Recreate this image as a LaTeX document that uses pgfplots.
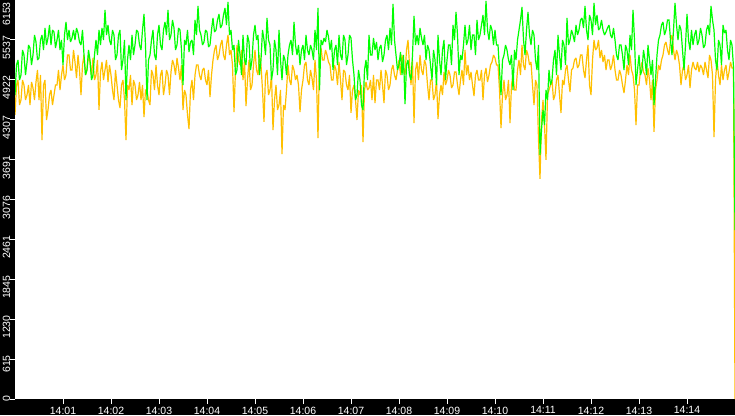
\documentclass[border=0pt]{standalone}
\usepackage{fontspec}
\setmainfont{Liberation Sans}
\usepackage{pgfplots}
\usepackage{pgfplotstable}
\pgfplotsset{compat=1.18}
\definecolor{lgreen}{RGB}{0,255,0}
\definecolor{lorange}{RGB}{255,192,0}
\pgfplotstableread[row sep=\\]{v\\
4688\\5151\\5228\\4919\\4996\\5382\\5305\\4996\\5197\\5459\\
5413\\5151\\5305\\5613\\5505\\5228\\5259\\5536\\5613\\5382\\
5721\\5459\\5567\\5767\\5459\\5690\\5660\\5413\\5536\\5690\\
5382\\5536\\5151\\5613\\5814\\5536\\5690\\5505\\5567\\5690\\
5536\\5721\\5644\\5505\\5459\\5690\\5305\\4996\\5074\\5382\\
5228\\4919\\4996\\5305\\5536\\5305\\5690\\5459\\5721\\5536\\
5999\\5613\\5767\\5536\\5459\\5690\\5613\\5228\\5305\\5613\\
5690\\5074\\5228\\5536\\4611\\5228\\5459\\5228\\5613\\5305\\
5459\\5690\\5660\\5459\\5382\\5690\\5937\\5459\\4611\\5228\\
5305\\5536\\5690\\5305\\5228\\5613\\5767\\5459\\5382\\5690\\
5814\\5613\\5999\\5536\\5613\\5845\\5721\\5382\\5459\\5721\\
5690\\5382\\4842\\5536\\5459\\5690\\5351\\5505\\5536\\5305\\
5845\\5613\\6060\\5690\\5613\\5459\\5505\\5690\\5660\\5428\\
5459\\5690\\5875\\5660\\5690\\5845\\5937\\5721\\5767\\5922\\
6030\\5767\\6122\\5613\\5690\\5382\\5459\\4996\\5074\\5536\\
5305\\4996\\5613\\5228\\5151\\5613\\5505\\5074\\5228\\5613\\
5767\\5536\\5613\\4996\\5228\\5690\\5536\\5305\\5875\\5536\\
5459\\4919\\5074\\5536\\5382\\4996\\5690\\5228\\4919\\5305\\
5228\\4996\\5305\\5459\\5536\\5305\\5814\\5459\\5305\\5459\\
5151\\5382\\5459\\5228\\5613\\5382\\5305\\5459\\5382\\5228\\
5690\\5382\\6030\\4765\\5536\\5459\\5567\\5505\\5690\\5583\\
5382\\5536\\5074\\5382\\5459\\5151\\5613\\5305\\5228\\5613\\
5536\\5151\\5305\\5613\\5567\\5228\\4996\\4611\\4688\\5074\\
4919\\4534\\4457\\5074\\5228\\4919\\5613\\5305\\5305\\5567\\
5382\\5505\\5228\\5413\\5459\\5197\\5305\\5536\\5613\\5382\\
5721\\5459\\6091\\5536\\5305\\5074\\5151\\5351\\4996\\5305\\
4549\\5151\\5228\\4996\\4919\\5305\\5906\\5459\\5613\\5459\\
5721\\5567\\5459\\5613\\5228\\5459\\5382\\5151\\4919\\5382\\
5228\\4842\\5613\\5228\\4996\\5382\\5536\\4919\\5228\\5459\\
5459\\5151\\5767\\5536\\5968\\5613\\4996\\5305\\5228\\5459\\
5767\\5459\\5536\\5767\\5382\\5613\\5613\\5305\\5845\\5536\\
5613\\5767\\5922\\5613\\6138\\5690\\5536\\5767\\5690\\5459\\
5690\\5459\\5459\\5074\\4688\\5228\\5305\\5459\\5382\\5228\\
5151\\5305\\4765\\5382\\5228\\5536\\5690\\5845\\6045\\5536\\
5305\\5690\\5968\\5613\\5459\\5690\\5613\\5228\\5074\\5459\\
3763\\4148\\4457\\4225\\4765\\4611\\5074\\4842\\4919\\5228\\
5382\\4996\\5613\\5305\\5074\\5536\\5459\\5151\\5875\\5459\\
5536\\5690\\5613\\5505\\5767\\5613\\5690\\5845\\5875\\5721\\
6060\\5690\\5536\\5922\\5845\\5613\\6107\\5767\\5922\\5690\\
5721\\5845\\5690\\5613\\5660\\5721\\5767\\5613\\5567\\5721\\
5536\\5305\\5228\\5459\\5459\\5305\\5074\\5459\\5382\\5151\\
5613\\5382\\5999\\5536\\4842\\5074\\5305\\4996\\5074\\5382\\
5228\\4996\\5459\\5228\\4996\\5228\\4534\\4919\\5305\\5536\\
5613\\5767\\5814\\5613\\5690\\5845\\5845\\5536\\5305\\5690\\
6107\\5767\\5536\\5767\\5690\\5382\\5074\\5459\\5937\\5536\\
5382\\5690\\5459\\5613\\5690\\5459\\5536\\5721\\5613\\5413\\
5459\\5690\\5767\\5613\\6060\\5845\\5690\\5228\\5074\\5536\\
5459\\5151\\5767\\5644\\5690\\5382\\5228\\5536\\5459\\5120\\
2606\\
}\greendata
\pgfplotstableread[row sep=\\]{v\\
4380\\4842\\4919\\4534\\4611\\4919\\4842\\4611\\4688\\4842\\
4534\\4889\\4796\\4611\\4889\\5074\\4611\\4996\\3994\\4842\\
4919\\4303\\4457\\4688\\4765\\4534\\4688\\4842\\4842\\5074\\
4765\\4996\\5151\\4919\\4996\\5305\\5305\\5074\\5074\\5382\\
5197\\4950\\5305\\5074\\4688\\5151\\5305\\4996\\5074\\5305\\
5197\\4996\\5259\\4919\\4996\\5228\\4457\\5043\\5197\\4919\\
5074\\5228\\4889\\5151\\4996\\4765\\4611\\5074\\4842\\4611\\
4488\\4842\\4919\\4611\\3994\\4842\\4765\\4996\\4534\\4919\\
4842\\4611\\4688\\4889\\4611\\4842\\4349\\4765\\4765\\4611\\
4534\\5074\\4996\\4765\\5151\\4842\\4688\\4996\\5074\\4688\\
4842\\5074\\4996\\4688\\5043\\5228\\5151\\4996\\5259\\5104\\
4919\\5151\\4457\\4765\\4688\\4380\\4164\\4765\\4919\\4611\\
4996\\5151\\5151\\4996\\4919\\5074\\5104\\4919\\4842\\5074\\
4657\\4996\\5228\\5382\\5459\\5228\\5305\\5459\\5536\\5305\\
5228\\5459\\5613\\5305\\5382\\5151\\4426\\5074\\5459\\5228\\
5151\\5382\\4919\\5228\\4518\\4919\\5228\\4765\\4842\\5151\\
5382\\5074\\4996\\5305\\5151\\4765\\4272\\4996\\5074\\4688\\
4765\\4996\\4148\\4611\\4842\\4457\\4534\\4765\\3778\\4534\\
4457\\4765\\5151\\4919\\4842\\5151\\5074\\4919\\4996\\4842\\
4426\\4765\\4919\\5151\\5197\\4919\\4842\\5074\\4950\\4765\\
5228\\4919\\4025\\5228\\5413\\5228\\5228\\5382\\5305\\5197\\
5151\\4919\\4919\\5151\\5074\\4842\\5197\\4919\\4611\\5074\\
5043\\4842\\4765\\4996\\4411\\4765\\4842\\4611\\4303\\4765\\
4688\\4842\\3963\\4765\\4889\\4765\\4796\\4919\\4611\\4996\\
4565\\4919\\4919\\4765\\5074\\4842\\4565\\5074\\4996\\4765\\
4842\\5074\\5151\\4996\\4919\\5074\\5228\\4996\\5305\\5074\\
4996\\5382\\5536\\5151\\4842\\5228\\4256\\5074\\5197\\4919\\
5305\\5074\\4996\\5228\\5151\\4842\\4611\\4919\\4919\\4611\\
4688\\4919\\4318\\4688\\4842\\4688\\5043\\4842\\4919\\5074\\
4996\\4796\\4842\\5043\\5043\\4842\\4688\\4919\\5074\\4842\\
5382\\4996\\5151\\4919\\5043\\4842\\4673\\4996\\5074\\4919\\
4919\\5074\\4611\\4996\\5104\\4889\\4996\\5151\\5197\\5305\\
5259\\5151\\5151\\4765\\4179\\4688\\4919\\4611\\4688\\4919\\
4256\\4842\\4996\\4765\\4765\\5074\\5228\\4996\\5459\\5151\\
5074\\5382\\5305\\5151\\5197\\4842\\4534\\4919\\4842\\3994\\
3393\\4303\\4611\\4225\\3686\\4688\\4765\\4842\\4919\\4611\\
4688\\4919\\4996\\4688\\4411\\4919\\4842\\5074\\5151\\4919\\
4734\\5074\\5104\\5228\\5259\\5104\\5151\\5305\\5305\\5074\\
4950\\5228\\5459\\4842\\4688\\5228\\5536\\5382\\5413\\5536\\
5259\\5382\\5197\\5305\\5074\\5228\\5228\\5074\\5151\\5305\\
5074\\4919\\4919\\5074\\4996\\4842\\4719\\4919\\5151\\4996\\
5305\\5074\\4996\\4765\\4225\\4842\\4842\\5074\\5197\\5043\\
4996\\4842\\5104\\4919\\4611\\4919\\4118\\4765\\4919\\5151\\
5074\\5228\\5305\\5459\\5505\\5382\\5305\\5536\\5613\\5382\\
5228\\5382\\5305\\5151\\4842\\5074\\5151\\4919\\4996\\5151\\
4796\\5074\\5197\\5104\\5074\\5197\\5043\\5151\\5104\\4996\\
5197\\5074\\4950\\5305\\5228\\4996\\4040\\4919\\5228\\4996\\
4842\\5151\\4919\\5074\\5151\\4919\\5043\\5197\\5104\\5104\\
0\\
}\orangedata
\begin{document}
\begin{tikzpicture}[x=1pt,y=1pt]
\useasboundingbox (0,0) rectangle (735,415);
\fill[black] (0,0) rectangle (735,415);
\begin{axis}[
  at={(15pt,16pt)}, anchor=south west,
  scale only axis, width=720pt, height=399pt,
  xmin=0, xmax=240, ymin=0, ymax=6153,
  axis background/.style={fill=white},
  axis line style={draw=none},
  tick pos=left, tick align=outside,
  major tick length=5pt,
  tick style={draw=white, line width=1pt},
  xtick={16,32,48,64,80,96,112,128,144,160,176,192,208,224},
  xticklabels={14:01,14:02,14:03,14:04,14:05,14:06,14:07,14:08,14:09,14:10,14:11,14:12,14:13,14:14},
  ytick={0,615.3,1230.6,1845.9,2461.2,3076.5,3691.8,4307.1,4922.4,5537.7},
  yticklabels={0,615,1230,1845,2461,3076,3691,4307,4922,5537},
  extra y ticks={6153}, extra y tick labels={6153},
  extra y tick style={yticklabel style={xshift=-6pt}},
  xticklabel style={font=\fontsize{10.5}{12}\selectfont, text=white, inner sep=0pt, anchor=north, yshift=-2.5pt},
  yticklabel style={font=\fontsize{10.5}{12}\selectfont, text=white, inner sep=0pt, rotate=90, anchor=base east, xshift=4pt},
  clip=true,
]
\addplot[sharp plot, draw=lorange, line width=1.2pt, line join=miter, miter limit=2] table[x expr=\coordindex*0.5, y=v] {\orangedata};
\addplot[sharp plot, draw=lgreen, line width=1.2pt, line join=miter, miter limit=2] table[x expr=\coordindex*0.5, y=v] {\greendata};
\end{axis}
\end{tikzpicture}
\end{document}
